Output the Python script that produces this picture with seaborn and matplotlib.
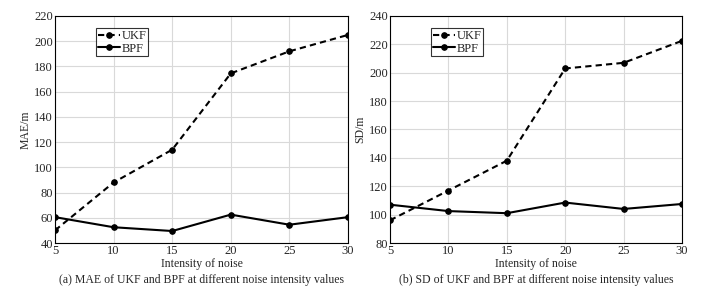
import numpy as np
import pandas as pd
import matplotlib.pyplot as plt
import seaborn as sns

noise = [5, 10, 15, 20, 25, 30]
mae_ukf = [50, 88, 114, 174.5, 192, 205]
mae_bpf = [60.5, 52.5, 49.5, 62.5, 54.5, 60.5]
sd_ukf = [96, 117, 138, 203, 207, 222.5]
sd_bpf = [107, 102.5, 101, 108.5, 104, 107.5]

sns.set_style('white')
plt.rcParams['font.family'] = ['Liberation Serif', 'DejaVu Serif']
plt.rcParams['font.size'] = 9
plt.rcParams['xtick.direction'] = 'in'
plt.rcParams['ytick.direction'] = 'in'

fig = plt.figure(figsize=(7.14, 2.95), dpi=100)
ax1 = fig.add_axes([55 / 714, 1 - 243 / 295, 293 / 714, 227 / 295])
ax2 = fig.add_axes([390 / 714, 1 - 243 / 295, 292 / 714, 227 / 295])

panels = [
    (ax1, mae_ukf, mae_bpf, 'MAE/m', (40, 220), '(a) MAE of UKF and BPF at different noise intensity values'),
    (ax2, sd_ukf, sd_bpf, 'SD/m', (80, 240), '(b) SD of UKF and BPF at different noise intensity values'),
]

for ax, ukf, bpf, ylabel, ylim, caption in panels:
    df = pd.DataFrame({'x': noise * 2, 'y': ukf + bpf,
                       'method': ['UKF'] * 6 + ['BPF'] * 6})
    sns.lineplot(data=df, x='x', y='y', style='method', ax=ax, color='black',
                 dashes={'UKF': (3, 2), 'BPF': ''},
                 markers={'UKF': 'o', 'BPF': 'o'}, markersize=4,
                 markeredgecolor='black', linewidth=1.5, legend=True)
    ax.set_xlim(5, 30)
    ax.set_ylim(*ylim)
    ax.set_xticks(noise)
    ax.set_yticks(np.arange(ylim[0], ylim[1] + 1, 20))
    ax.grid(True, color='#d9d9d9', linewidth=0.8)
    for s in ax.spines.values():
        s.set_color('black')
        s.set_linewidth(0.8)
    ax.tick_params(length=3, pad=1.5, labelsize=9)
    ax.set_xlabel('Intensity of noise', fontsize=8.5, labelpad=1)
    ax.set_ylabel(ylabel, fontsize=8.5, labelpad=2)
    ax.text(0.5, -0.163, caption, transform=ax.transAxes, ha='center', va='center', fontsize=8.5)
    leg = ax.legend(loc='upper left', bbox_to_anchor=(0.14, 0.947), fontsize=9,
                    frameon=True, fancybox=False, edgecolor='black',
                    handlelength=1.8, handletextpad=0.1, borderpad=0.15,
                    labelspacing=0.05, borderaxespad=0)
    leg.get_frame().set_linewidth(0.8)

fig.savefig('out.png', dpi=100)
